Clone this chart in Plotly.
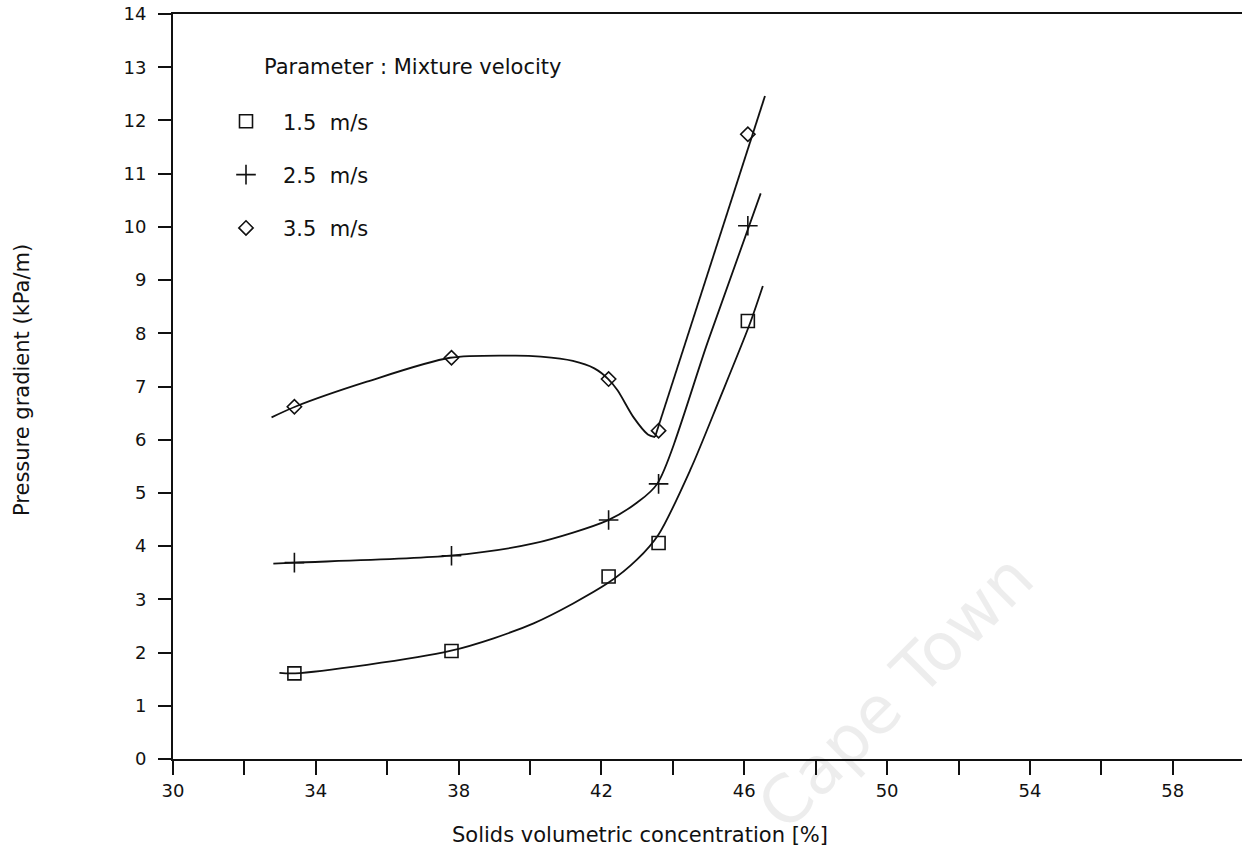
import plotly.graph_objects as go

# Measured points: solids volumetric concentration [%] vs pressure gradient [kPa/m]
conc = [33.4, 37.8, 42.2, 43.6, 46.1]
dp_15 = [1.61, 2.03, 3.43, 4.06, 8.23]
dp_25 = [3.69, 3.82, 4.49, 5.17, 10.02]
dp_35 = [6.62, 7.54, 7.14, 6.17, 11.74]

# Hand-fitted trend curves through each series
fit_15_x = [32.98, 33.42, 37.76, 40.1, 42.19, 43.0, 43.6, 44.5, 45.3, 46.14, 46.52]
fit_15_y = [1.62, 1.61, 2.03, 2.55, 3.31, 3.75, 4.22, 5.45, 6.75, 8.15, 8.89]
fit_25_x = [32.81, 33.42, 37.76, 40.1, 42.19, 43.0, 43.56, 45.0, 46.46]
fit_25_y = [3.67, 3.69, 3.82, 4.05, 4.49, 4.82, 5.17, 7.88, 10.63]
# 3.5 m/s: curved branch down to the minimum, then a straight rising branch
fit_35_x = [32.76, 33.42, 35.43, 37.76, 39.6, 40.3, 41.2, 41.8, 42.19, 42.45, 42.9, 43.3, 43.5]
fit_35_y = [6.42, 6.62, 7.09, 7.54, 7.58, 7.56, 7.48, 7.34, 7.14, 6.93, 6.42, 6.1, 6.05]
fit_35_tail_x = [43.5, 46.58]
fit_35_tail_y = [6.05, 12.46]

labels = ["1.5\u00a0 m/s", "2.5\u00a0 m/s", "3.5\u00a0 m/s"]
symbols = ["square-open", "cross-thin-open", "diamond-open"]
sizes = [13, 14, 11]

FONT = "DejaVu Sans"
INK = "#111111"
TXT = 21
TICK = 18

fig = go.Figure()

for fx, fy in [(fit_15_x, fit_15_y), (fit_25_x, fit_25_y), (fit_35_x, fit_35_y)]:
    fig.add_trace(go.Scatter(
        x=fx, y=fy, mode="lines", showlegend=False, hoverinfo="skip",
        line=dict(color=INK, width=1.8, shape="spline", smoothing=0.8),
    ))
fig.add_trace(go.Scatter(
    x=fit_35_tail_x, y=fit_35_tail_y, mode="lines", showlegend=False, hoverinfo="skip",
    line=dict(color=INK, width=1.8),
))

for name, ys, sym, sz in zip(labels, [dp_15, dp_25, dp_35], symbols, sizes):
    fig.add_trace(go.Scatter(
        x=conc, y=ys, mode="markers", name=name, legendgroup=name,
        marker=dict(symbol=sym, size=sz, color=INK, line=dict(color=INK, width=1.6)),
    ))

fig.update_layout(
    width=1242, height=864,
    margin=dict(l=173, r=0, t=14, b=105),
    paper_bgcolor="white", plot_bgcolor="white",
    font=dict(family=FONT, size=TXT, color=INK),
    showlegend=True,
    legend=dict(
        x=(209 - 173) / 1069, y=0.883, xanchor="left", yanchor="top",
        bgcolor="rgba(0,0,0,0)", itemwidth=64, tracegroupgap=23,
        font=dict(family=FONT, size=TXT, color=INK),
    ),
    xaxis=dict(
        range=[30, 59.94], dtick=4, tick0=30,
        showline=True, linecolor=INK, linewidth=2, mirror=True,
        ticks="outside", ticklen=14, tickwidth=2, tickcolor=INK,
        minor=dict(dtick=2, ticks="outside", ticklen=14, tickwidth=2, tickcolor=INK),
        showgrid=False, zeroline=False,
        tickfont=dict(family=FONT, size=TICK, color=INK),
    ),
    yaxis=dict(
        range=[0, 14], dtick=1,
        showline=True, linecolor=INK, linewidth=2, mirror=False,
        ticks="outside", ticklen=13, tickwidth=2, tickcolor=INK,
        showgrid=False, zeroline=False, ticklabelstandoff=8,
        tickfont=dict(family=FONT, size=TICK, color=INK),
    ),
    annotations=[
        dict(text="Parameter : Mixture velocity", xref="paper", yref="y",
             x=(262 - 173) / 1069, y=13, xanchor="left", yanchor="middle",
             showarrow=False, font=dict(family=FONT, size=TXT, color=INK)),
        dict(text="Solids volumetric concentration [%]", xref="paper", yref="paper",
             x=(640 - 173) / 1069, y=-(835 - 759) / 745, xanchor="center", yanchor="middle",
             showarrow=False, font=dict(family=FONT, size=TXT, color=INK)),
        dict(text="Pressure gradient (kPa/m)", xref="paper", yref="paper",
             x=-(173 - 22) / 1069, y=(759 - 380) / 745, xanchor="center", yanchor="middle",
             textangle=-90, showarrow=False, font=dict(family=FONT, size=TXT, color=INK)),
        dict(text="Cape Town", xref="paper", yref="paper",
             x=(895 - 173) / 1069, y=(759 - 692) / 745, xanchor="center", yanchor="middle",
             textangle=-45, showarrow=False,
             font=dict(family=FONT, size=66, color="rgba(0,0,0,0.07)")),
    ],
)

fig.write_html("out.html")
